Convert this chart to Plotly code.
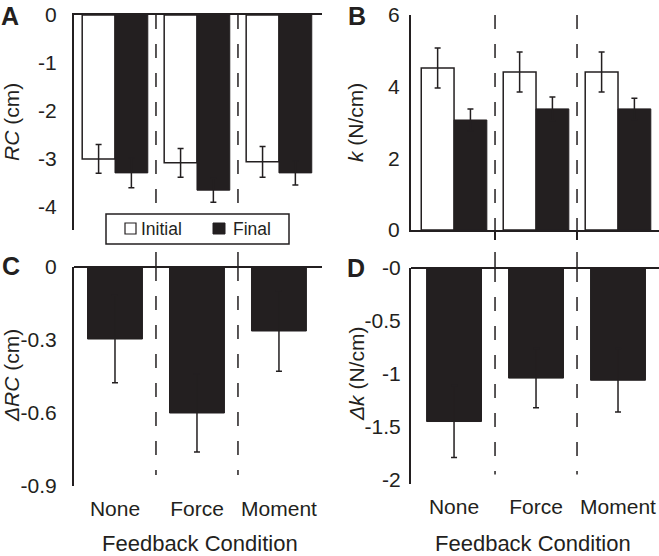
import plotly.graph_objects as go

# ---------------- data ----------------
categories = ["None", "Force", "Moment"]
cat_pos = [1, 2, 3]
series_names = ["Initial", "Final"]

rc_initial = [-3.00, -3.08, -3.06]
rc_initial_err = [0.30, 0.30, 0.32]
rc_final = [-3.29, -3.65, -3.29]
rc_final_err = [0.31, 0.25, 0.25]

k_initial = [4.52, 4.41, 4.41]
k_initial_err = [0.56, 0.56, 0.56]
k_final = [3.07, 3.38, 3.38]
k_final_err = [0.31, 0.33, 0.30]

d_rc = [-0.296, -0.60, -0.263]
d_rc_err = [0.18, 0.16, 0.165]
d_k = [-1.45, -1.04, -1.06]
d_k_err = [0.34, 0.28, 0.30]

rc_ticks = [0, -1, -2, -3, -4]
rc_ticktext = ["0", "-1", "-2", "-3", "-4"]
k_ticks = [0, 2, 4, 6]
k_ticktext = ["0", "2", "4", "6"]
drc_ticks = [0, -0.3, -0.6, -0.9]
drc_ticktext = ["0", "-0.3", "-0.6", "-0.9"]
dk_ticks = [0, -0.5, -1, -1.5, -2]
dk_ticktext = ["-0", "-0.5", "-1", "-1.5", "-2"]
boundaries = [1.5, 2.5]

# ---------------- styling ----------------
W, H = 659, 556
BLACK = "#231f20"
FONT = "Liberation Sans, Arial, sans-serif"


def px_x(p):
    return p / W


def px_y(p):
    return 1 - p / H


fig = go.Figure()


def err(arr):
    return dict(type="data", array=arr, color=BLACK, thickness=1.5, width=3)


def add_pair(xa, ya, init, init_err, fin, fin_err):
    fig.add_trace(go.Bar(
        x=cat_pos, y=init, width=0.4, offset=-0.4, name=series_names[0],
        marker=dict(color="white", line=dict(color=BLACK, width=1.5)),
        error_y=err(init_err), xaxis=xa, yaxis=ya, showlegend=False))
    fig.add_trace(go.Bar(
        x=cat_pos, y=fin, width=0.4, offset=0.0, name=series_names[1],
        marker=dict(color=BLACK, line=dict(color=BLACK, width=1)),
        error_y=err(fin_err), xaxis=xa, yaxis=ya, showlegend=False))


add_pair("x", "y", rc_initial, rc_initial_err, rc_final, rc_final_err)
add_pair("x2", "y2", k_initial, k_initial_err, k_final, k_final_err)

fig.add_trace(go.Bar(x=cat_pos, y=d_rc, width=0.67, name="ΔRC",
                     marker=dict(color=BLACK, line=dict(color=BLACK, width=1)),
                     error_y=err(d_rc_err), xaxis="x3", yaxis="y3", showlegend=False))
fig.add_trace(go.Bar(x=cat_pos, y=d_k, width=0.67, name="Δk",
                     marker=dict(color=BLACK, line=dict(color=BLACK, width=1)),
                     error_y=err(d_k_err), xaxis="x4", yaxis="y4", showlegend=False))

common_y = dict(showline=True, linecolor=BLACK, linewidth=2, ticks="", showgrid=False,
                automargin=False, tickfont=dict(size=21, color=BLACK, family=FONT))
common_x = dict(showgrid=False, zeroline=False, linecolor=BLACK, linewidth=2,
                automargin=False, tickfont=dict(size=21, color=BLACK, family=FONT))

dom_left = [px_x(74), px_x(322)]
dom_right = [px_x(411), 1.0]
dom_top = [px_y(230), px_y(15)]
dom_c = [px_y(486), px_y(267)]
dom_d = [px_y(484), px_y(268)]

fig.update_layout(
    width=W, height=H,
    margin=dict(l=0, r=0, t=0, b=0, pad=0),
    paper_bgcolor="white", plot_bgcolor="white",
    barmode="overlay", showlegend=False,
    font=dict(family=FONT, color=BLACK, size=21),
    xaxis=dict(domain=dom_left, range=[0.5, 3.525], anchor="y", side="top",
               showline=True, tickvals=boundaries, ticks="", showticklabels=False, **common_x),
    yaxis=dict(domain=dom_top, range=[-4.48, 0], anchor="x", tickvals=rc_ticks,
               ticktext=rc_ticktext, ticklabelstandoff=11, zeroline=False, **common_y),
    xaxis2=dict(domain=dom_right, range=[0.475, 3.5], anchor="y2", side="bottom",
                showline=True, tickvals=boundaries, ticks="outside", ticklen=8,
                tickwidth=1.5, tickcolor=BLACK, showticklabels=False, **common_x),
    yaxis2=dict(domain=dom_top, range=[0, 6], anchor="x2", tickvals=k_ticks,
                ticktext=k_ticktext, ticklabelstandoff=5, zeroline=False, **common_y),
    xaxis3=dict(domain=dom_left, range=[0.5, 3.525], anchor="y3", showline=False,
                tickvals=cat_pos, ticktext=categories, ticks="", ticklabelstandoff=8, **common_x),
    yaxis3=dict(domain=dom_c, range=[-0.9, 0], anchor="x3", tickvals=drc_ticks,
                ticktext=drc_ticktext, ticklabelstandoff=11, zeroline=True,
                zerolinecolor=BLACK, zerolinewidth=2, **common_y),
    xaxis4=dict(domain=dom_right, range=[0.475, 3.5], anchor="y4", showline=False,
                tickvals=cat_pos, ticktext=categories, ticks="", ticklabelstandoff=8, **common_x),
    yaxis4=dict(domain=dom_d, range=[-2.04, 0], anchor="x4", tickvals=dk_ticks,
                ticktext=dk_ticktext, ticklabelstandoff=4, zeroline=True,
                zerolinecolor=BLACK, zerolinewidth=2, **common_y),
)

# dashed separators
shapes = []
dash = dict(color=BLACK, width=1.5, dash="14px,15px")
for b in boundaries:
    shapes.append(dict(type="line", xref="x", yref="y", x0=b, x1=b, y0=0, y1=-4, line=dash))
    shapes.append(dict(type="line", xref="x2", yref="y2", x0=b, x1=b, y0=6, y1=0, line=dash))
    shapes.append(dict(type="line", xref="x3", yref="y3", x0=b, x1=b, y0=0, y1=-0.855, line=dash))
    shapes.append(dict(type="line", xref="x4", yref="y4", x0=b, x1=b, y0=0, y1=-1.95, line=dash))
    # small upward tick marks above the zero line in C and D
    for xr in ("x3", "x4"):
        shapes.append(dict(type="line", xref=xr, yref="paper", x0=b, x1=b,
                           y0=px_y(268), y1=px_y(252), line=dict(color=BLACK, width=1.5)))

# legend box (key for the Initial / Final series)
shapes.append(dict(type="rect", xref="paper", yref="paper", x0=px_x(106), x1=px_x(289),
                   y0=px_y(244), y1=px_y(214), line=dict(color=BLACK, width=1.5),
                   fillcolor="white", layer="above"))
shapes.append(dict(type="rect", xref="paper", yref="paper", x0=px_x(125), x1=px_x(136),
                   y0=px_y(234), y1=px_y(223), line=dict(color=BLACK, width=1.2),
                   fillcolor="white", layer="above"))
shapes.append(dict(type="rect", xref="paper", yref="paper", x0=px_x(213), x1=px_x(225),
                   y0=px_y(234), y1=px_y(223), line=dict(color=BLACK, width=1),
                   fillcolor=BLACK, layer="above"))
fig.update_layout(shapes=shapes)

ann = []


def add_text(text, x, y, size, angle=0, bold=False, xanchor="center"):
    ann.append(dict(text=("<b>%s</b>" % text) if bold else text, x=px_x(x), y=px_y(y),
                    xref="paper", yref="paper", showarrow=False, textangle=angle,
                    xanchor=xanchor, yanchor="middle",
                    font=dict(size=size, color=BLACK, family=FONT)))


add_text("A", 10, 15.5, 25, bold=True)
add_text("B", 357, 15.5, 25, bold=True)
add_text("C", 11, 266, 25, bold=True)
add_text("D", 356, 268, 25, bold=True)
add_text("<i>RC</i> (cm)", 12, 122, 21, angle=-90)
add_text("<i>k</i> (N/cm)", 356, 122, 21, angle=-90)
add_text("<i>ΔRC</i> (cm)", 11, 376, 21, angle=-90)
add_text("<i>Δk</i> (N/cm)", 356, 374, 21, angle=-90)
add_text("Feedback Condition", 200, 543, 22)
add_text("Feedback Condition", 533, 543, 22)
add_text(series_names[0], 139, 229, 17.5, xanchor="left")
add_text(series_names[1], 231, 229, 17.5, xanchor="left")
fig.update_layout(annotations=ann)

fig.write_html("out.html", config={"displayModeBar": False},
               post_script="document.body.style.margin='0';document.body.style.overflow='hidden';")
